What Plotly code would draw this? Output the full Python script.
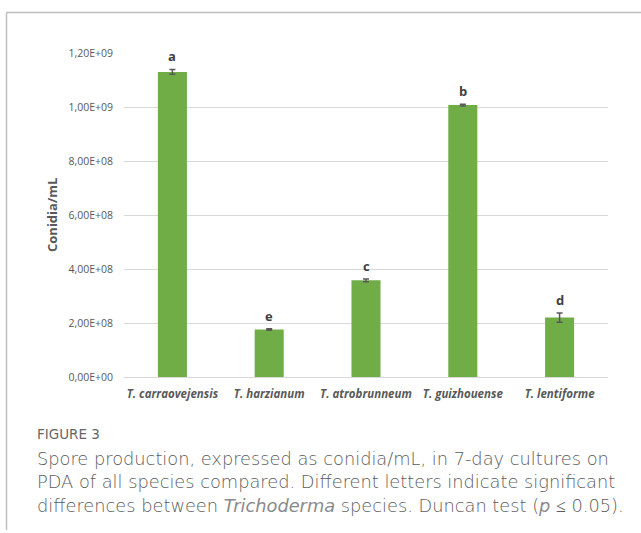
import plotly.graph_objects as go

# Spore production per species (conidia/mL), 7-day PDA cultures
species = ["T. carraovejensis", "T. harzianum", "T. atrobrunneum", "T. guizhouense", "T. lentiforme"]
conidia = [1.13e9, 1.76e8, 3.58e8, 1.007e9, 2.20e8]
std_err = [9e6, 3e6, 5e6, 3e6, 1.7e7]
letters = ["a", "e", "c", "b", "d"]

y_ticks = [0, 2e8, 4e8, 6e8, 8e8, 1e9, 1.2e9]
y_tick_text = ["0,00E+00", "2,00E+08", "4,00E+08", "6,00E+08", "8,00E+08", "1,00E+09", "1,20E+09"]

W, H = 641, 533
L, R, T, B = 124, 33, 53, 156
pw, ph = W - L - R, H - T - B


def px(x):
    return (x - L) / pw


def py(y):
    return (H - B - y) / ph


GREEN = "#70AD47"
TXT = "#595959"

fig = go.Figure()
fig.add_trace(go.Bar(
    x=species,
    y=conidia,
    marker=dict(color=GREEN, line=dict(width=0)),
    width=0.3,
    error_y=dict(type="data", array=std_err, visible=True,
                 color="#595959", thickness=1.5, width=3),
    hoverinfo="skip",
))

# Duncan grouping letters above each bar
for s, v, e, lt in zip(species, conidia, std_err, letters):
    fig.add_annotation(x=s, y=v + e, text=f"<b>{lt}</b>", showarrow=False,
                       yanchor="bottom", yshift=2,
                       font=dict(family="Open Sans", size=13, color="#404040"))

# y-axis title
fig.add_annotation(xref="paper", yref="paper", x=px(52), y=py(215),
                   xanchor="center", yanchor="middle",
                   text="<b>Conidia/mL</b>", textangle=-90, showarrow=False,
                   font=dict(family="Open Sans", size=13, color=TXT))

# caption
fig.add_annotation(xref="paper", yref="paper", x=px(35), y=py(434),
                   xanchor="left", yanchor="middle", showarrow=False,
                   text="FIGURE 3",
                   font=dict(family="DejaVu Sans", size=13.5, color="#666666"))
ital = "<span style='color:#8a8a8a'><i>{}</i></span>"
caption_lines = [
    "Spore production, expressed as conidia/mL, in 7-day cultures on",
    "PDA of all species compared. Different letters indicate significant",
    "differences between " + ital.format("Trichoderma")
    + " species. Duncan test (" + ital.format("p") + " \u2264 0.05).",
]
for i, line in enumerate(caption_lines):
    fig.add_annotation(xref="paper", yref="paper", x=px(35), y=py(458 + 23.5 * i),
                       xanchor="left", yanchor="middle", showarrow=False,
                       text=line,
                       font=dict(family="DejaVu Sans", size=17.8, weight=300, color="#5c5c5c"))

# frame around the figure panel
frame = dict(color="#c0c0c0", width=1.5)
fig.add_shape(type="line", xref="paper", yref="paper",
              x0=px(6.5), x1=px(W + 5), y0=py(12.5), y1=py(12.5), line=frame)
fig.add_shape(type="line", xref="paper", yref="paper",
              x0=px(6.5), x1=px(6.5), y0=py(12.5), y1=py(530), line=frame)

fig.update_layout(
    width=W, height=H,
    margin=dict(l=L, r=R, t=T, b=B),
    paper_bgcolor="white", plot_bgcolor="white",
    showlegend=False,
    bargap=0.7,
    font=dict(family="Open Sans", color=TXT),
)
fig.update_xaxes(
    tickvals=species,
    ticktext=[f"<b><i>{s}</i></b>" for s in species],
    tickfont=dict(family="Open Sans", size=11.5, color=TXT),
    showline=True, linecolor="#d9d9d9", linewidth=1,
    ticks="", showgrid=False, ticklabelstandoff=6,
)
fig.update_yaxes(
    range=[0, 1.2e9],
    tickvals=y_ticks, ticktext=y_tick_text,
    tickfont=dict(family="Open Sans", size=10.5, color=TXT),
    showgrid=True, gridcolor="#d9d9d9", gridwidth=1,
    zeroline=False, showline=False, ticks="", ticklabelstandoff=10,
)

fig.write_html("out.html")
